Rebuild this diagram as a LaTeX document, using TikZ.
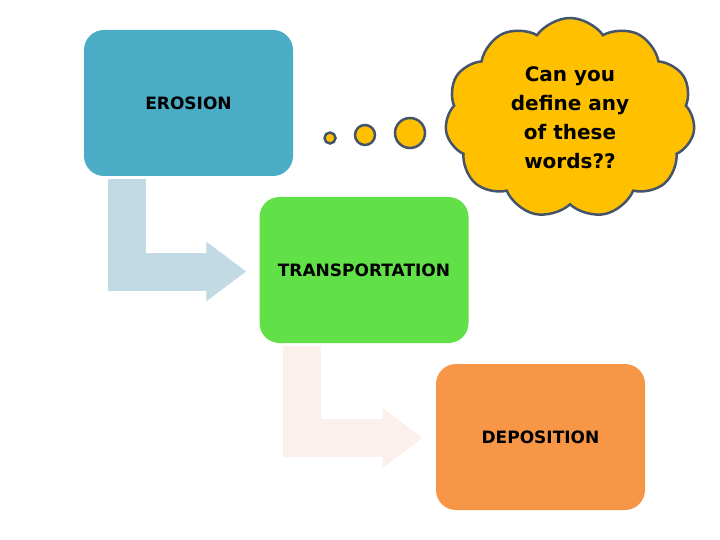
\documentclass[tikz,border=0pt]{standalone}
\usepackage{fontspec}
\setmainfont{DejaVu Sans}
\usetikzlibrary{arrows.meta,positioning,shapes.symbols,calc}
\definecolor{cErosion}{RGB}{75,172,198}
\definecolor{cTransport}{RGB}{97,224,72}
\definecolor{cDeposition}{RGB}{247,150,70}
\definecolor{cArrowA}{RGB}{194,218,228}
\definecolor{cArrowB}{RGB}{252,240,236}
\definecolor{cThink}{RGB}{255,192,0}
\definecolor{cEdge}{RGB}{68,84,106}

\begin{document}
\begin{tikzpicture}[
		x=1pt, y=-1pt,
		stagebox/.style={
			rounded corners=20pt,
			minimum width=209pt,
			minimum height=146pt,
			inner sep=0pt,
			font=\fontsize{17}{21}\selectfont\bfseries
		},
		bentarrow/.style={line width=38pt, line join=miter, -{Triangle[length=40pt,width=57pt]}},
		bubble/.style={circle, draw=cEdge, line width=2.5pt, fill=cThink, inner sep=0pt}
	]
	\useasboundingbox (0,0) rectangle (720,540);

	% the three stages
	\node[stagebox, fill=cErosion] (erosion) at (188.5,103) {EROSION};
	\node[stagebox, fill=cTransport] (transport) at (364,270) {TRANSPORTATION};
	\node[stagebox, fill=cDeposition] (deposition) at (540.5,437) {DEPOSITION};

	% bent arrows between them
	\draw[bentarrow, cArrowA] ($(erosion.south west)+(43.5,3)$) |- ($(transport.west)+(-13,1.5)$);
	\draw[bentarrow, cArrowB] ($(transport.south west)+(43,3)$) |- ($(deposition.west)+(-13,1)$);

	% thought cloud
	\node[
		cloud, cloud puffs=11, cloud puff arc=110, aspect=1.25,
		draw=cEdge, line width=2.5pt, fill=cThink,
		minimum width=250pt, minimum height=200pt,
		align=center, font=\fontsize{20}{29}\selectfont\bfseries
	] (thought) at (570,118) {Can you\\define any\\of these\\words??};
	\node[bubble, minimum size=11pt] (dotA) at (330,138) {};
	\node[bubble, minimum size=20pt] (dotB) at (365,135) {};
	\node[bubble, minimum size=30pt] (dotC) at (410,133) {};
\end{tikzpicture}
\end{document}
